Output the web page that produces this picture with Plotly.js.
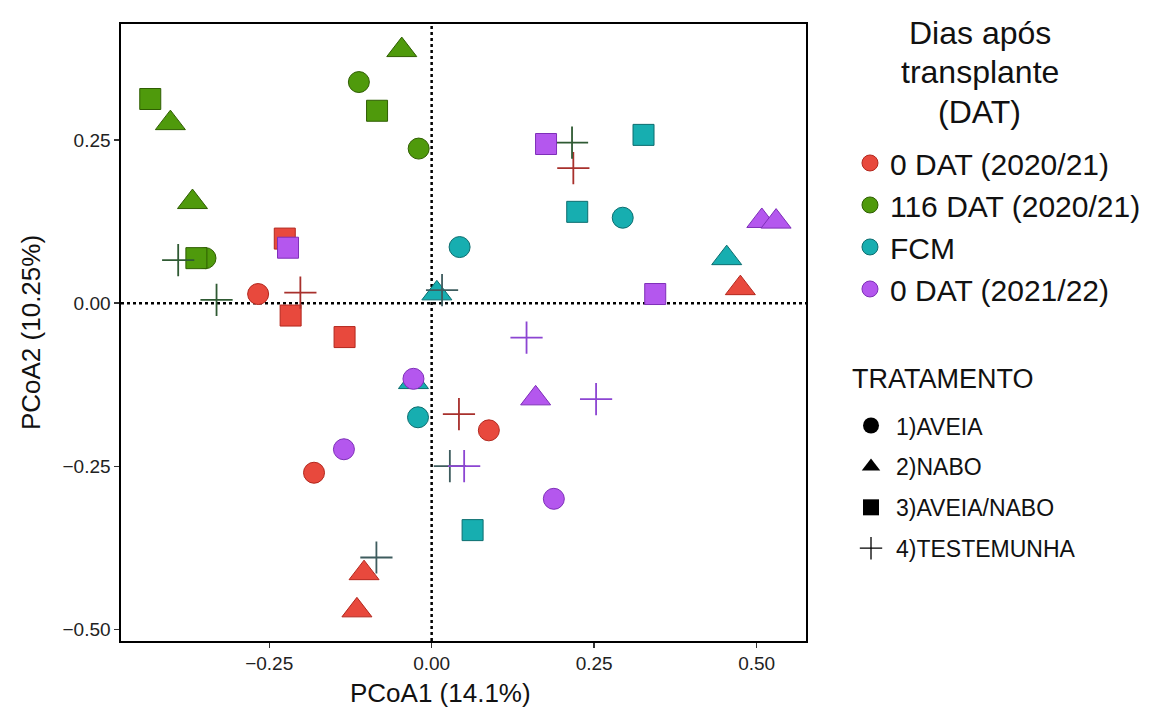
<!DOCTYPE html>
<html>
<head>
<meta charset="utf-8">
<script src="https://cdn.plot.ly/plotly-3.0.1.min.js"></script>
<style>html,body{margin:0;padding:0;background:#fff;}#chart{width:1174px;height:708px;}</style>
</head>
<body>
<div id="chart"></div>
<script>
// ---- data ----
const groupNames = ['0 DAT (2020/21)', '116 DAT (2020/21)', 'FCM', '0 DAT (2021/22)'];
const treatmentNames = ['1)AVEIA', '2)NABO', '3)AVEIA/NABO', '4)TESTEMUNHA'];
const legendTitleLines = ['Dias após', 'transplante', '(DAT)'];
const legend2Title = 'TRATAMENTO';
const xTitle = 'PCoA1 (14.1%)';
const yTitle = 'PCoA2 (10.25%)';

// treatment codes: 1 AVEIA, 2 NABO, 3 AVEIA/NABO, 4 TESTEMUNHA
const red_x   = [-0.267, -0.181, 0.088,  0.475, -0.104, -0.115, -0.226, -0.217, -0.134, -0.202, 0.218, 0.042];
const red_y   = [ 0.014, -0.260, -0.195, 0.023, -0.414, -0.471,  0.099, -0.019, -0.052,  0.016, 0.207, -0.170];
const red_t   = [1, 1, 1, 2, 2, 2, 3, 3, 3, 4, 4, 4];

const green_x = [-0.112, -0.020, -0.348, -0.046, -0.402, -0.368, -0.433, -0.084, -0.362, -0.390, -0.331, 0.216];
const green_y = [ 0.339,  0.237,  0.069,  0.388,  0.276,  0.155,  0.313,  0.295,  0.069,  0.066,  0.005, 0.246];
const green_t = [1, 1, 1, 2, 2, 2, 3, 3, 3, 4, 4, 4];

const fcm_x   = [0.043, 0.294, -0.021, 0.008, 0.454, -0.028, 0.326, 0.224, 0.063, 0.016, -0.085, 0.028];
const fcm_y   = [0.086, 0.131, -0.175, 0.015, 0.069, -0.121, 0.258, 0.140, -0.348, 0.020, -0.390, -0.250];
const fcm_t   = [1, 1, 1, 2, 2, 2, 3, 3, 3, 4, 4, 4];

const purple_x = [-0.028, -0.135, 0.188, 0.508, 0.530, 0.160, 0.176, -0.221, 0.344, 0.146, 0.253, 0.050];
const purple_y = [-0.116, -0.224, -0.300, 0.126, 0.125, -0.146, 0.244, 0.085, 0.014, -0.053, -0.147, -0.250];
const purple_t = [1, 1, 1, 2, 2, 2, 3, 3, 3, 4, 4, 4];

const xTicks = [-0.25, 0, 0.25, 0.5];
const xTickLabels = ['\u22120.25', '0.00', '0.25', '0.50'];
const yTicks = [-0.5, -0.25, 0, 0.25];
const yTickLabels = ['\u22120.50', '\u22120.25', '0.00', '0.25'];

// ---- styles ----
const fills  = ['#E8493D', '#4F9A0C', '#17AEB0', '#B457EE'];
const edges  = ['#B3271D', '#2F5E02', '#0C6D6F', '#7E2FB8'];
const crossC = ['#A8302C', '#2F5A33', '#3E5C5E', '#8C45D2'];
const symbols = ['circle', 'triangle-up', 'square', 'cross-thin'];
const sizes = [21, 26, 21, 23];

const groupsData = [
  [red_x, red_y, red_t],
  [green_x, green_y, green_t],
  [fcm_x, fcm_y, fcm_t],
  [purple_x, purple_y, purple_t]
];

const traces = [];
groupsData.forEach((g, gi) => {
  for (let t = 1; t <= 4; t++) {
    const xs = [], ys = [];
    g[2].forEach((tt, i) => { if (tt === t) { xs.push(g[0][i]); ys.push(g[1][i]); } });
    const isCross = (t === 4);
    traces.push({
      type: 'scatter', mode: 'markers', x: xs, y: ys, showlegend: false,
      hoverinfo: 'skip',
      marker: {
        symbol: symbols[t - 1], size: sizes[t - 1],
        color: isCross ? crossC[gi] : fills[gi],
        line: isCross ? {color: crossC[gi], width: 1.8} : {color: edges[gi], width: 1}
      }
    });
  }
});

// legend 1: groups (colour)
groupNames.forEach((n, gi) => {
  traces.push({
    type: 'scatter', mode: 'markers', x: [null], y: [null], name: n,
    legend: 'legend', showlegend: true,
    marker: {symbol: 'circle', size: 16, color: fills[gi], line: {color: edges[gi], width: 1}}
  });
});
// legend 2: treatments (shape)
treatmentNames.forEach((n, ti) => {
  traces.push({
    type: 'scatter', mode: 'markers', x: [null], y: [null], name: n,
    legend: 'legend2', legendgroup: 't' + ti, showlegend: true,
    marker: {symbol: symbols[ti], size: 16, color: '#000',
      line: ti === 3 ? {color: '#000', width: 1.3} : {color: '#000', width: 0}}
  });
});

const titleY = [0.9854, 0.9222, 0.8574];
const annotations = legendTitleLines.map((s, i) => ({
  text: s, xref: 'paper', yref: 'paper', x: 1.254, y: titleY[i],
  xanchor: 'center', yanchor: 'middle', showarrow: false,
  font: {size: 32, color: '#111'}
}));
annotations.push({
  text: legend2Title, xref: 'paper', yref: 'paper', x: 1.0642, y: 0.4246,
  xanchor: 'left', yanchor: 'middle', showarrow: false,
  font: {size: 27, color: '#111'}
});
annotations.push({
  text: xTitle, xref: 'paper', yref: 'paper', x: 0.467, y: -0.0843,
  xanchor: 'center', yanchor: 'middle', showarrow: false,
  font: {size: 26, color: '#111'}
});

const layout = {
  width: 1174, height: 708,
  margin: {l: 121, r: 368, t: 24, b: 67},
  paper_bgcolor: '#fff', plot_bgcolor: '#fff',
  font: {family: 'Liberation Sans, Arial, sans-serif', color: '#000'},
  xaxis: {
    range: [-0.478, 0.576], tickvals: xTicks, ticktext: xTickLabels,
    showgrid: false, zeroline: false, showline: true, mirror: true,
    linecolor: '#000', linewidth: 1.6, ticks: 'outside', ticklen: 5, tickwidth: 1.3, tickcolor: '#333',
    tickfont: {size: 19, color: '#222'}
  },
  yaxis: {
    range: [-0.518, 0.428], tickvals: yTicks, ticktext: yTickLabels,
    showgrid: false, zeroline: false, showline: true, mirror: true,
    linecolor: '#000', linewidth: 1.6, ticks: 'outside', ticklen: 5, tickwidth: 1.3, tickcolor: '#333',
    tickfont: {size: 19, color: '#222'},
    title: {text: yTitle, font: {size: 26, color: '#111'}, standoff: 14}
  },
  shapes: [
    {type: 'line', xref: 'x', yref: 'paper', x0: 0, x1: 0, y0: 0, y1: 1, line: {color: '#000', width: 2.5, dash: 'dot'}, layer: 'below'},
    {type: 'line', xref: 'paper', yref: 'y', x0: 0, x1: 1, y0: 0, y1: 0, line: {color: '#000', width: 2.5, dash: 'dot'}, layer: 'below'}
  ],
  annotations: annotations,
  legend: {
    x: 1.0642, xanchor: 'left', y: 0.8169, yanchor: 'top',
    font: {size: 30, color: '#111'}, traceorder: 'normal',
    bgcolor: 'rgba(0,0,0,0)', itemwidth: 30
  },
  legend2: {
    x: 1.0584, xanchor: 'left', y: 0.384, yanchor: 'top',
    font: {size: 23, color: '#111'}, traceorder: 'grouped', tracegroupgap: 8,
    bgcolor: 'rgba(0,0,0,0)', itemwidth: 40
  }
};

Plotly.newPlot('chart', traces, layout, {displayModeBar: false, staticPlot: true});
</script>
</body>
</html>
